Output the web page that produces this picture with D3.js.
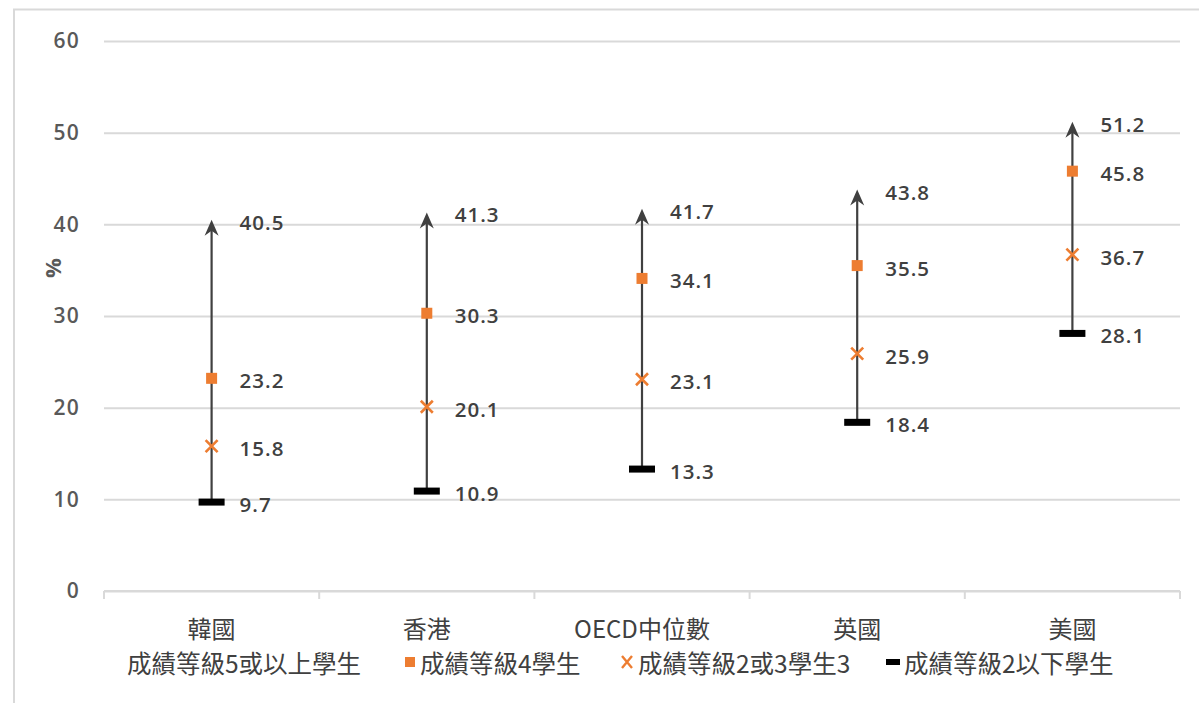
<!DOCTYPE html>
<html>
<head>
<meta charset="utf-8">
<script src="https://cdn.jsdelivr.net/npm/d3@7"></script>
<style>
  html, body { margin: 0; padding: 0; background: #fff; }
  svg { display: block; }
</style>
</head>
<body>
<svg id="chart" width="1199" height="703"></svg>
<script>
// Share of students by proficiency level (%)
const categories = ["韓國", "香港", "OECD中位數", "英國", "美國"];
const level5Plus = [40.5, 41.3, 41.7, 43.8, 51.2];
const level4 = [23.2, 30.3, 34.1, 35.5, 45.8];
const level2to3 = [15.8, 20.1, 23.1, 25.9, 36.7];
const belowLevel2 = [9.7, 10.9, 13.3, 18.4, 28.1];
const yTicks = [0, 10, 20, 30, 40, 50, 60];
const legendLabels = ["成績等級5或以上學生", "成績等級4學生", "成績等級2或3學生3", "成績等級2以下學生"];

const svg = d3.select("#chart");
const W = 1199, H = 703;
const plot = { left: 104, right: 1180, top: 41, bottom: 591 };

const orange = "#ED7D31";
const lineColor = "#404040";
const textColor = "#404040";
const gridColor = "#d9d9d9";
const numFont = "'Open Sans', 'DejaVu Sans', sans-serif";
const cjkFont = "'Noto Sans CJK TC', 'Noto Sans CJK SC', sans-serif";

// outer chart frame
svg.append("path")
  .attr("d", `M14,${H + 2} V9.5 H${W + 2}`)
  .attr("fill", "none")
  .attr("stroke", "#d9d9d9")
  .attr("stroke-width", 2);

const x = d3.scaleBand().domain(categories).range([plot.left, plot.right]).padding(0);
const y = d3.scaleLinear().domain([0, 60]).range([plot.bottom, plot.top]);
const cx = c => x(c) + x.bandwidth() / 2;

// horizontal gridlines
const yAxis = d3.axisLeft(y).tickValues(yTicks).tickSize(-(plot.right - plot.left)).tickPadding(24);
const gy = svg.append("g").attr("transform", `translate(${plot.left},0)`).call(yAxis);
gy.select(".domain").remove();
gy.selectAll(".tick line").attr("stroke", gridColor).attr("stroke-width", 2);
gy.selectAll(".tick text")
  .attr("fill", "#595959")
  .style("font-family", numFont)
  .style("font-size", "21px")
  .style("font-weight", 600)
  .style("letter-spacing", "1.2px");

// category axis
const xAxis = d3.axisBottom(x).tickSize(0).tickFormat("");
const gx = svg.append("g").attr("transform", `translate(0,${plot.bottom})`).call(xAxis);
gx.select(".domain").attr("stroke", gridColor).attr("stroke-width", 2)
  .attr("d", `M${plot.left},0H${plot.right}`);
const bounds = categories.map(c => x(c)).concat([plot.right]);
gx.selectAll(".sep").data(bounds).enter().append("line")
  .attr("x1", d => d).attr("x2", d => d)
  .attr("y1", 0).attr("y2", 8)
  .attr("stroke", gridColor).attr("stroke-width", 2);

svg.append("g").selectAll("text").data(categories).enter().append("text")
  .attr("x", d => cx(d))
  .attr("y", 627)
  .attr("text-anchor", "middle")
  .attr("dominant-baseline", "central")
  .attr("fill", textColor)
  .style("font-family", cjkFont)
  .style("font-size", "24px")
  .text(d => d);

// y axis title
svg.append("text")
  .attr("transform", "translate(52,268) rotate(-90)")
  .attr("text-anchor", "middle")
  .attr("dominant-baseline", "central")
  .attr("fill", "#595959")
  .style("font-family", numFont)
  .style("font-size", "22px")
  .style("font-weight", 700)
  .text("%");

// range lines with arrow heads at the top value
const rows = categories.map((c, i) => ({
  c, top: level5Plus[i], l4: level4[i], l23: level2to3[i], low: belowLevel2[i]
}));

const g = svg.append("g");
g.selectAll("line.range").data(rows).enter().append("line")
  .attr("class", "range")
  .attr("x1", d => cx(d.c)).attr("x2", d => cx(d.c))
  .attr("y1", d => y(d.low)).attr("y2", d => y(d.top) + 8)
  .attr("stroke", lineColor).attr("stroke-width", 2.2);

g.selectAll("path.arrow").data(rows).enter().append("path")
  .attr("class", "arrow")
  .attr("transform", d => `translate(${cx(d.c)},${y(d.top)})`)
  .attr("d", "M0,0 L-7,16 L0,11 L7,16 Z")
  .attr("fill", lineColor);

// level-2-or-below marker
g.selectAll("rect.low").data(rows).enter().append("rect")
  .attr("class", "low")
  .attr("x", d => cx(d.c) - 13).attr("y", d => y(d.low) - 3.5)
  .attr("width", 26).attr("height", 7)
  .attr("fill", "#000");

// level 2-3 marker (x)
g.selectAll("path.mid").data(rows).enter().append("path")
  .attr("class", "mid")
  .attr("transform", d => `translate(${cx(d.c)},${y(d.l23)})`)
  .attr("d", "M-6,-6 L6,6 M-6,6 L6,-6")
  .attr("stroke", orange).attr("stroke-width", 2.6).attr("fill", "none");

// level 4 marker (square)
g.selectAll("rect.l4").data(rows).enter().append("rect")
  .attr("class", "l4")
  .attr("x", d => cx(d.c) - 5.5).attr("y", d => y(d.l4) - 5.5)
  .attr("width", 11).attr("height", 11)
  .attr("fill", orange);

// value labels
const labels = [];
rows.forEach(d => {
  labels.push({ c: d.c, v: d.top });
  labels.push({ c: d.c, v: d.l4 });
  labels.push({ c: d.c, v: d.l23 });
  labels.push({ c: d.c, v: d.low });
});
g.selectAll("text.val").data(labels).enter().append("text")
  .attr("class", "val")
  .attr("x", d => cx(d.c) + 28)
  .attr("y", d => y(d.v) + 2)
  .attr("dominant-baseline", "central")
  .attr("fill", textColor)
  .style("font-family", numFont)
  .style("font-size", "20.5px")
  .style("font-weight", 600)
  .style("letter-spacing", "1px")
  .text(d => d3.format(".1f")(d.v));

// legend
const legendY = 662;
const legendItems = [
  { label: legendLabels[0], x: 127, sym: null },
  { label: legendLabels[1], x: 420, sym: "square" },
  { label: legendLabels[2], x: 638, sym: "cross" },
  { label: legendLabels[3], x: 904, sym: "dash" }
];
const lg = svg.append("g");
legendItems.forEach(it => {
  if (it.sym === "square") {
    lg.append("rect").attr("x", it.x - 15).attr("y", legendY - 5).attr("width", 10).attr("height", 10).attr("fill", orange);
  } else if (it.sym === "cross") {
    lg.append("path").attr("transform", `translate(${it.x - 11},${legendY})`)
      .attr("d", "M-5,-6 L5,6 M-5,6 L5,-6")
      .attr("stroke", orange).attr("stroke-width", 2.4).attr("fill", "none");
  } else if (it.sym === "dash") {
    lg.append("rect").attr("x", it.x - 18).attr("y", legendY - 3).attr("width", 14).attr("height", 6).attr("fill", "#000");
  }
  lg.append("text")
    .attr("x", it.x).attr("y", legendY)
    .attr("dominant-baseline", "central")
    .attr("fill", textColor)
    .style("font-family", cjkFont)
    .style("font-size", "24.5px")
    .text(it.label);
});
</script>
</body>
</html>
